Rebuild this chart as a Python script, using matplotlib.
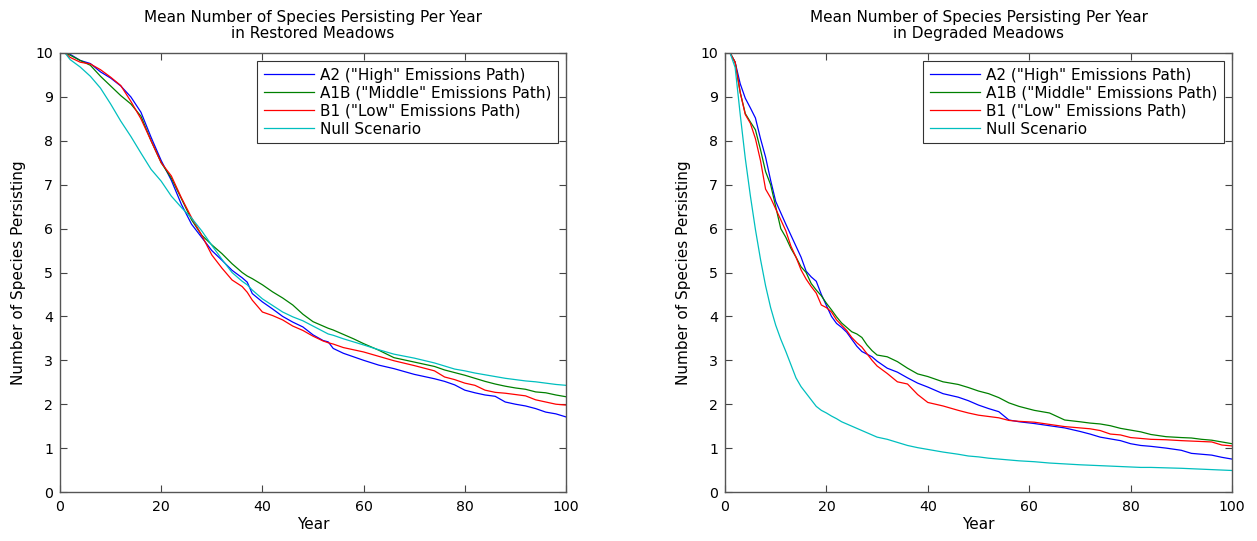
import matplotlib
matplotlib.use("Agg")
import matplotlib.pyplot as plt

plt.rcParams["font.family"] = ["DejaVu Sans"]

# 복원된 초원 (left panel)
years_restored = [1, 2, 4, 6, 8, 10, 12, 14, 16, 18, 20, 22, 24, 26, 28, 30, 32, 34, 36, 37,
                  38, 40, 42, 44, 46, 48, 50, 52, 53, 54, 56, 58, 60, 63, 66, 70, 74, 76, 78, 80,
                  82, 84, 86, 88, 90, 92, 94, 96, 98, 100]
a2_restored = [10, 9.97, 9.83, 9.76, 9.57, 9.43, 9.25, 9.0, 8.65, 8.08, 7.55, 7.1, 6.55, 6.1, 5.8, 5.5, 5.28, 5.05, 4.88, 4.78,
               4.52, 4.33, 4.17, 4.0, 3.87, 3.76, 3.58, 3.45, 3.42, 3.27, 3.16, 3.08, 3.0, 2.89, 2.81, 2.68, 2.58, 2.52, 2.44, 2.32,
               2.26, 2.21, 2.18, 2.05, 2.0, 1.96, 1.9, 1.82, 1.78, 1.71]
a1b_restored = [10, 9.95, 9.83, 9.72, 9.47, 9.25, 9.03, 8.84, 8.56, 8.0, 7.5, 7.15, 6.68, 6.2, 5.85, 5.63, 5.43, 5.2, 5.0, 4.92,
                4.86, 4.72, 4.56, 4.42, 4.26, 4.05, 3.88, 3.78, 3.73, 3.69, 3.59, 3.49, 3.38, 3.23, 3.06, 2.96, 2.86, 2.78, 2.72, 2.66,
                2.59, 2.52, 2.46, 2.41, 2.37, 2.34, 2.28, 2.26, 2.21, 2.17]
b1_restored = [10, 9.9, 9.79, 9.75, 9.62, 9.45, 9.26, 8.9, 8.5, 8.0, 7.5, 7.2, 6.7, 6.25, 5.85, 5.4, 5.1, 4.83, 4.68, 4.55,
               4.37, 4.1, 4.02, 3.92, 3.78, 3.68, 3.55, 3.44, 3.4, 3.37, 3.29, 3.24, 3.19, 3.09, 2.99, 2.88, 2.76, 2.62, 2.56, 2.48,
               2.43, 2.32, 2.27, 2.25, 2.22, 2.19, 2.1, 2.05, 2.0, 1.98]
null_restored = [10, 9.85, 9.68, 9.47, 9.2, 8.84, 8.45, 8.1, 7.72, 7.35, 7.08, 6.74, 6.48, 6.24, 5.95, 5.62, 5.3, 5.0, 4.8, 4.72,
                 4.6, 4.4, 4.25, 4.1, 3.99, 3.9, 3.78, 3.66, 3.6, 3.57, 3.49, 3.42, 3.35, 3.24, 3.14, 3.05, 2.94, 2.87, 2.8, 2.76,
                 2.71, 2.67, 2.63, 2.59, 2.56, 2.53, 2.51, 2.48, 2.45, 2.43]

# 훼손된 초원 (right panel)
years_degraded = [1, 2, 3, 4, 5, 6, 7, 8, 9, 10, 11, 12, 13, 14, 15, 16, 17, 18, 19, 20,
                  21, 22, 23, 24, 25, 26, 27, 28, 29, 30, 32, 34, 36, 38, 40, 43, 46, 48, 50, 52,
                  54, 56, 58, 61, 64, 67, 70, 72, 74, 76, 78, 80, 82, 84, 87, 90, 92, 94, 96, 98, 100]
a2_degraded = [10, 9.79, 9.3, 8.97, 8.75, 8.52, 8.05, 7.63, 7.1, 6.62, 6.36, 6.1, 5.85, 5.6, 5.35, 5.03, 4.9, 4.8, 4.5, 4.25,
               4.0, 3.84, 3.75, 3.64, 3.48, 3.32, 3.2, 3.14, 3.08, 2.98, 2.82, 2.73, 2.6, 2.48, 2.39, 2.24, 2.16, 2.08, 1.98, 1.9,
               1.83, 1.64, 1.6, 1.56, 1.51, 1.46, 1.38, 1.32, 1.25, 1.21, 1.17, 1.1, 1.06, 1.04, 1.0, 0.95, 0.88, 0.86, 0.84, 0.79, 0.75]
a1b_degraded = [10, 9.79, 9.1, 8.62, 8.43, 8.25, 7.8, 7.3, 7.0, 6.5, 6.0, 5.8, 5.55, 5.35, 5.13, 5.0, 4.75, 4.6, 4.47, 4.3,
                4.15, 3.99, 3.85, 3.75, 3.65, 3.6, 3.52, 3.35, 3.22, 3.12, 3.08, 2.97, 2.82, 2.69, 2.63, 2.51, 2.45, 2.38, 2.3, 2.24,
                2.15, 2.03, 1.95, 1.86, 1.8, 1.64, 1.6, 1.57, 1.55, 1.51, 1.45, 1.41, 1.37, 1.31, 1.26, 1.24, 1.23, 1.2, 1.18, 1.14, 1.1]
b1_degraded = [10, 9.79, 9.1, 8.6, 8.4, 8.05, 7.55, 6.9, 6.7, 6.45, 6.2, 5.95, 5.6, 5.35, 5.06, 4.85, 4.68, 4.53, 4.26, 4.2,
               4.1, 3.92, 3.8, 3.68, 3.52, 3.4, 3.3, 3.15, 3.0, 2.87, 2.7, 2.51, 2.46, 2.22, 2.04, 1.96, 1.86, 1.8, 1.75, 1.72,
               1.69, 1.63, 1.61, 1.59, 1.54, 1.49, 1.46, 1.44, 1.4, 1.32, 1.3, 1.24, 1.22, 1.2, 1.19, 1.17, 1.16, 1.15, 1.14, 1.07, 1.05]
null_degraded = [10, 9.67, 8.6, 7.6, 6.75, 5.98, 5.3, 4.7, 4.2, 3.8, 3.48, 3.2, 2.9, 2.6, 2.4, 2.25, 2.1, 1.95, 1.86, 1.8,
                 1.73, 1.67, 1.6, 1.55, 1.5, 1.45, 1.4, 1.35, 1.3, 1.25, 1.2, 1.13, 1.06, 1.01, 0.97, 0.91, 0.86, 0.82, 0.8, 0.77,
                 0.75, 0.73, 0.71, 0.69, 0.66, 0.64, 0.62, 0.61, 0.6, 0.59, 0.58, 0.57, 0.56, 0.56, 0.55, 0.54, 0.53, 0.52, 0.51, 0.5, 0.49]

labels = ['A2 ("High" Emissions Path)', 'A1B ("Middle" Emissions Path)',
          'B1 ("Low" Emissions Path)', 'Null Scenario']
colors = ["#0000ff", "#008000", "#ff0000", "#00bfbf"]

fig = plt.figure(figsize=(12.57, 5.41), dpi=100)
ax1 = fig.add_axes([60 / 1257, 49 / 541, 506 / 1257, 439 / 541])
ax2 = fig.add_axes([725 / 1257, 49 / 541, 507 / 1257, 439 / 541])

panels = [
    (ax1, years_restored, [a2_restored, a1b_restored, b1_restored, null_restored], "Restored Meadows"),
    (ax2, years_degraded, [a2_degraded, a1b_degraded, b1_degraded, null_degraded], "Degraded Meadows"),
]

for ax, years, series, name in panels:
    for values, label, color in zip(series, labels, colors):
        ax.plot(years, values, color=color, linewidth=0.9, label=label)
    ax.set_xlim(0, 100)
    ax.set_ylim(0, 10)
    ax.set_xticks(range(0, 101, 20))
    ax.set_yticks(range(0, 11))
    ax.tick_params(direction="in", top=True, right=True, length=5, width=0.8,
                   color="#444444", labelsize=10.2)
    ax.tick_params(axis="x", pad=6)
    ax.tick_params(axis="y", pad=5)
    for spine in ax.spines.values():
        spine.set_color("#555555")
        spine.set_linewidth(1.0)
    ax.set_xlabel("Year", fontsize=11, labelpad=2)
    ax.set_ylabel("Number of Species Persisting", fontsize=11, labelpad=7)
    ax.set_title("Mean Number of Species Persisting Per Year\nin " + name,
                 fontsize=11, pad=11, linespacing=1.1)
    leg = ax.legend(loc="upper right", fontsize=11, frameon=True, fancybox=False,
                    borderaxespad=0.55, handlelength=3.3, handletextpad=0.4,
                    labelspacing=0.2, borderpad=0.4)
    leg.get_frame().set_edgecolor("black")
    leg.get_frame().set_linewidth(0.8)

fig.savefig("out.png", dpi=100)
